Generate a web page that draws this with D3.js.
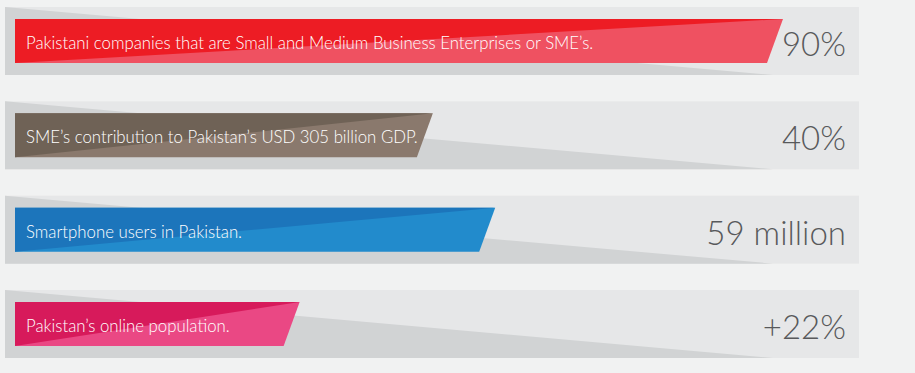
<!DOCTYPE html>
<html>
<head>
<meta charset="utf-8">
<script src="https://d3js.org/d3.v7.min.js"></script>
<style>
  body { margin: 0; background: #f1f2f2; }
  svg { display: block; }
</style>
</head>
<body>
<svg id="chart"></svg>
<script>
const w = 915;
const h = 373;

// datos
const etiquetas = [
  'Pakistani companies that are Small and Medium Business Enterprises or SME\u2019s.',
  'SME\u2019s contribution to Pakistan\u2019s USD 305 billion GDP.',
  'Smartphone users in Pakistan.',
  'Pakistan\u2019s online population.'
];
const valores = ['90%', '40%', '59 million', '+22%'];
// largo de cada barra, en % del carril
const largos = [91.1, 50.1, 57.4, 34.5];
const oscuros = ['#ed1c24', '#6f6256', '#1c75bb', '#d71a5b'];
const claros = ['#ef5161', '#8a796d', '#228bcc', '#ea4884'];

const trackX0 = 5, trackX1 = 859;
const inset = 12;
const slant = 16;

const escalaX = d3.scaleLinear().domain([0, 100]).range([trackX0, trackX1]);
const escalaY = d3.scaleBand()
  .domain(d3.range(etiquetas.length))
  .range([7, 358])
  .paddingInner(0.279);

let svg = d3.select('#chart')
  .attr('width', w)
  .attr('height', h);

let filas = svg.selectAll('g.fila')
  .data(etiquetas)
  .enter()
  .append('g')
  .attr('class', 'fila')
  .attr('transform', (d, i) => 'translate(0,' + escalaY(i) + ')');

const th = escalaY.bandwidth();

// carril gris
filas.append('rect')
  .attr('x', trackX0)
  .attr('y', 0)
  .attr('width', trackX1 - trackX0)
  .attr('height', th)
  .style('fill', '#e6e7e8');

// sombra diagonal del carril
filas.append('path')
  .attr('d', 'M' + trackX0 + ',0 L' + 773 + ',' + th + ' L' + trackX0 + ',' + th + ' Z')
  .style('fill', '#d1d3d4');

// barra de color, parte clara
const bx0 = 15;
filas.append('path')
  .attr('d', (d, i) => {
    const xr = escalaX(largos[i]);
    return 'M' + bx0 + ',' + inset + ' L' + xr + ',' + inset +
      ' L' + (xr - slant) + ',' + (th - inset) + ' L' + bx0 + ',' + (th - inset) + ' Z';
  })
  .style('fill', (d, i) => claros[i]);

// parte oscura (triangulo superior izquierdo)
filas.append('path')
  .attr('d', (d, i) => {
    const xr = escalaX(largos[i]);
    return 'M' + bx0 + ',' + inset + ' L' + xr + ',' + inset +
      ' L' + bx0 + ',' + (th - inset) + ' Z';
  })
  .style('fill', (d, i) => oscuros[i]);

filas.append('text')
  .attr('x', 26)
  .attr('y', th / 2 + 8)
  .text(d => d)
  .style('font-family', 'Lato, sans-serif')
  .style('font-weight', 300)
  .style('font-size', '16.8px')
  .style('fill', '#ffffff');

filas.append('text')
  .attr('x', 846)
  .attr('y', th / 2 + 15)
  .attr('text-anchor', 'end')
  .text((d, i) => valores[i])
  .style('font-family', 'Lato, sans-serif')
  .style('font-weight', 300)
  .style('font-size', '33px')
  .style('fill', '#58595b');
</script>
</body>
</html>
